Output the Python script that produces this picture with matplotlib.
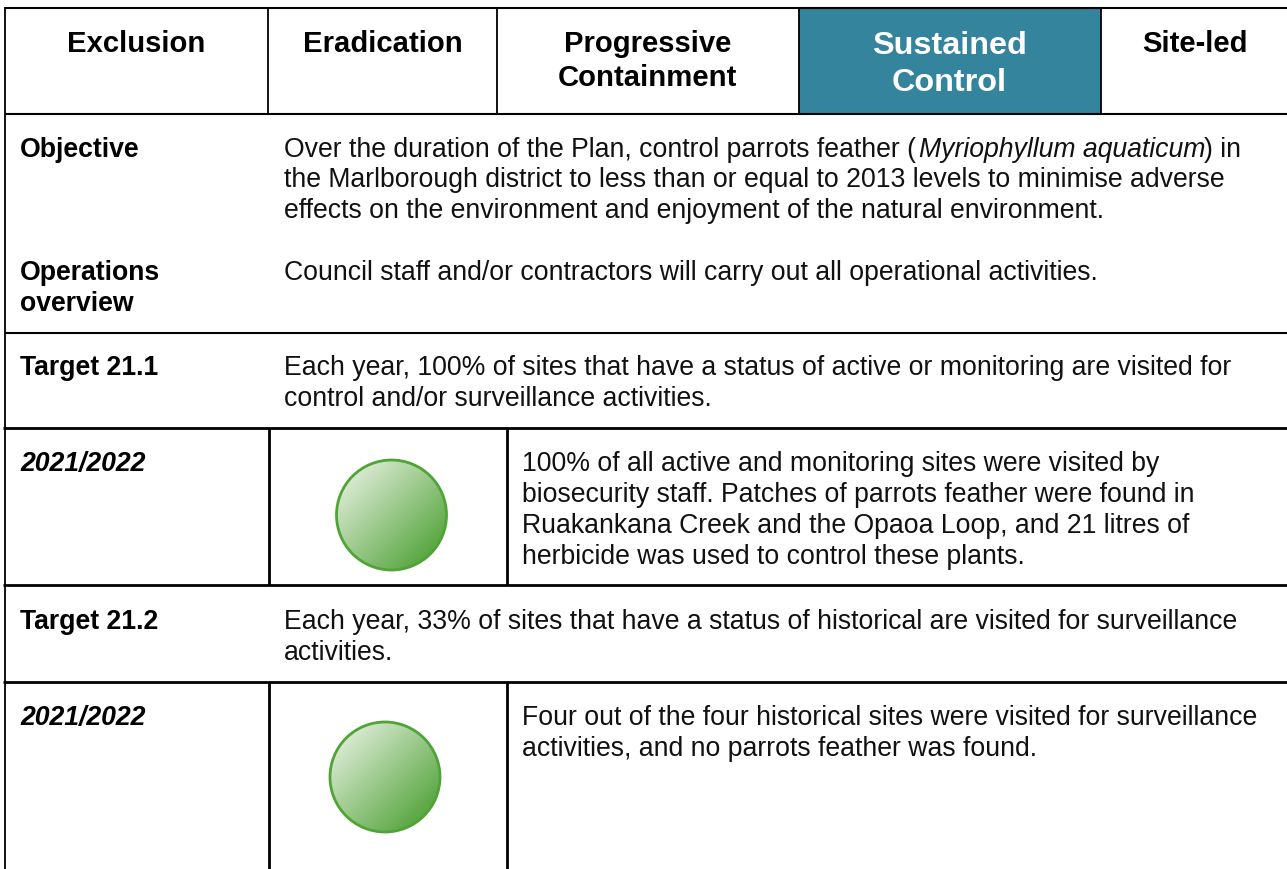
import matplotlib
matplotlib.use('Agg')
import matplotlib.pyplot as plt
import matplotlib.patches as mpatches
import numpy as np

plt.rcParams['font.family'] = ['Liberation Sans', 'DejaVu Sans']

W, H = 1287, 869

# header row
header_labels = [['Exclusion'], ['Eradication'], ['Progressive', 'Containment'], ['Sustained', 'Control'], ['Site-led']]
header_centers = [136.5, 382.5, 647.5, 949.5, 1195]
header_bounds = [5, 268, 497, 799, 1101]

# left column labels
row_labels = ['Objective', 'Operations', 'overview', 'Target 21.1', 'Target 21.2']
row_label_y = [157, 280, 311, 375, 629]
year_labels = ['2021/2022', '2021/2022']
year_y = [471, 725]

# body text, one entry per line
body_lines = [
    'Council staff and/or contractors will carry out all operational activities.',
    'Each year, 100% of sites that have a status of active or monitoring are visited for',
    'control and/or surveillance activities.',
    'Each year, 33% of sites that have a status of historical are visited for surveillance',
    'activities.',
]
body_y = [280, 375, 406, 629, 660]

objective_lines = [
    'the Marlborough district to less than or equal to 2013 levels to minimise adverse',
    'effects on the environment and enjoyment of the natural environment.',
]
objective_y = [187, 218]

result_lines = [
    '100% of all active and monitoring sites were visited by',
    'biosecurity staff. Patches of parrots feather were found in',
    'Ruakankana Creek and the Opaoa Loop, and 21 litres of',
    'herbicide was used to control these plants.',
    'Four out of the four historical sites were visited for surveillance',
    'activities, and no parrots feather was found.',
]
result_y = [471, 502, 533, 564, 725, 756]

# status circles
circle_x = [391.5, 385]
circle_y = [515, 777]

fig = plt.figure(figsize=(W / 100, H / 100), dpi=100)
ax = fig.add_axes([0, 0, 1, 1])
ax.set_xlim(0, W)
ax.set_ylim(H, 0)
ax.axis('off')

FS = 19.2

# teal header cell
ax.add_patch(mpatches.Rectangle((799, 8), 302, 106, facecolor='#33849c', edgecolor='none', zorder=1))

# table lines
def hline(y, x0=4, x1=W, lw=1.5):
    ax.plot([x0, x1], [y, y], color='black', lw=lw, solid_capstyle='butt', zorder=3)

def vline(x, y0, y1, lw=1.3):
    ax.plot([x, x], [y0, y1], color='black', lw=lw, solid_capstyle='butt', zorder=3)

hline(8, 5)
hline(114, 5)
hline(333, 5)
hline(428, 3, lw=2.0)
hline(585, 3, lw=2.0)
hline(682, 3, lw=2.0)
vline(5, 7, H)
for x in header_bounds[1:]:
    vline(x, 8, 114)
for y0, y1 in [(428, 585), (682, H)]:
    vline(269, y0, y1, lw=2.0)
    vline(507, y0, y1, lw=2.0)

# header text
for i, (lines, cx) in enumerate(zip(header_labels, header_centers)):
    teal = i == 3
    for j, line in enumerate(lines):
        ax.text(cx, (54 if teal else 52) + j * (37 if teal else 34), line, ha='center', va='baseline',
                fontsize=23.3 if teal else 21.1, fontweight='bold', color='white' if teal else 'black', zorder=4)

for s, y in zip(row_labels, row_label_y):
    ax.text(20, y, s, fontsize=FS, fontweight='bold', va='baseline', zorder=4)
for s, y in zip(year_labels, year_y):
    ax.text(20, y, s, fontsize=FS, fontweight='bold', style='italic', va='baseline', zorder=4)

# objective first line, italic species name
ax.text(284, 157, 'Over the duration of the Plan, control parrots feather (', fontsize=FS, va='baseline', color='#111111')
ax.text(919, 157, 'Myriophyllum aquaticum', fontsize=FS, style='italic', va='baseline', color='#111111')
ax.text(1204, 157, ') in', fontsize=FS, va='baseline', color='#111111')

for s, y in zip(objective_lines + body_lines, objective_y + body_y):
    ax.text(284, y, s, fontsize=FS, va='baseline', color='#111111')
for s, y in zip(result_lines, result_y):
    ax.text(522, y, s, fontsize=FS, va='baseline', color='#111111')

# gradient circles
c0 = np.array([0.84, 0.91, 0.81])
c1 = np.array([0.30, 0.63, 0.20])
for cx, cy in zip(circle_x, circle_y):
    r = 55
    u, v = np.meshgrid(np.linspace(0, 1, 120), np.linspace(0, 1, 120))
    t = np.clip((u + v) / 2 * 1.3 - 0.2, 0, 1)[..., None]
    img = c0 * (1 - t) + c1 * t
    im = ax.imshow(img, extent=(cx - r, cx + r, cy + r, cy - r), aspect='auto', zorder=2, interpolation='bilinear')
    circ = mpatches.Circle((cx, cy), r, facecolor='none', edgecolor='#4ea535', lw=2.0, zorder=3)
    ax.add_patch(circ)
    im.set_clip_path(circ)

ax.set_xlim(0, W)
ax.set_ylim(H, 0)

fig.savefig('out.png', dpi=100)
